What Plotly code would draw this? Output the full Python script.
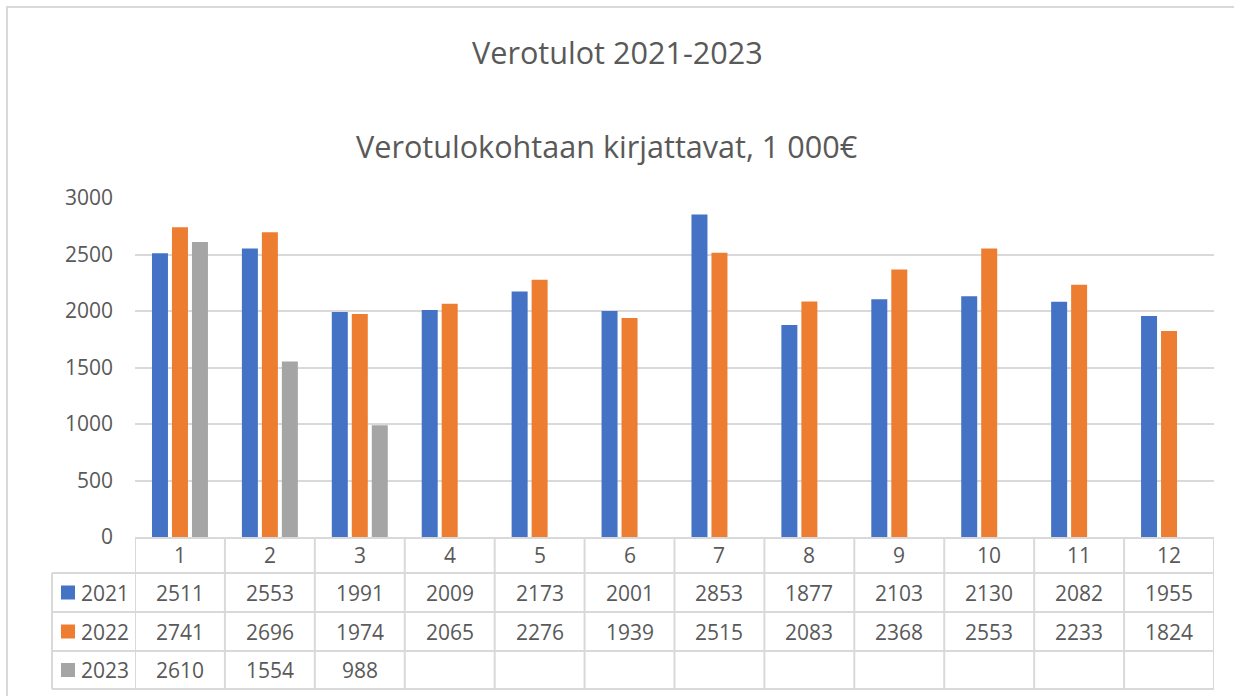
import plotly.graph_objects as go

# Data
MONTHS = ["1", "2", "3", "4", "5", "6", "7", "8", "9", "10", "11", "12"]
YEARS = ["2021", "2022", "2023"]
V2021 = [2511, 2553, 1991, 2009, 2173, 2001, 2853, 1877, 2103, 2130, 2082, 1955]
V2022 = [2741, 2696, 1974, 2065, 2276, 1939, 2515, 2083, 2368, 2553, 2233, 1824]
V2023 = [2610, 1554, 988]
COLORS = ["#4472C4", "#ED7D31", "#A5A5A5"]

TITLE = "Verotulot 2021-2023"
SUBTITLE = "Verotulokohtaan kirjattavat, 1 000€"

FONT = "Open Sans"
TXT = "#595959"
GRID = "#D9D9D9"

# pixel geometry of the plot area (used to convert to paper coords)
W, H = 1234, 696
L, R, T, B = 135, 20, 198, 159
PW, PH = W - L - R, H - T - B


def py(y):
    """pixel y -> paper y"""
    return (H - B - y) / PH


def px(x):
    """pixel x -> paper x"""
    return (x - L) / PW


series = [V2021, V2022, V2023]

fig = go.Figure()
for year, vals, color in zip(YEARS, series, COLORS):
    fig.add_trace(
        go.Bar(
            x=MONTHS[: len(vals)],
            y=vals,
            name=year,
            marker=dict(color=color, line=dict(width=0)),
            hovertemplate=f"{year}<br>%{{x}}: %{{y}}<extra></extra>",
        )
    )

# Data table under the chart
row_edges = [H - B, 573, 612, 651, 689]
shapes = []
annotations = []

# horizontal lines of the table
for y in row_edges[1:]:
    shapes.append(dict(type="line", xref="paper", yref="paper",
                       x0=px(52), x1=1, y0=py(y), y1=py(y),
                       line=dict(color=GRID, width=2)))
# vertical lines at category boundaries
for k in range(len(MONTHS) + 1):
    shapes.append(dict(type="line", xref="x", yref="paper",
                       x0=k - 0.5, x1=k - 0.5, y0=0, y1=py(row_edges[-1]),
                       line=dict(color=GRID, width=2)))
shapes.append(dict(type="line", xref="paper", yref="paper",
                   x0=px(52), x1=px(52), y0=py(573), y1=py(689),
                   line=dict(color=GRID, width=2)))

# outer chart border (right and bottom edges fall outside the picture)
shapes.append(dict(type="rect", xref="paper", yref="paper",
                   x0=px(7), x1=px(W + 10), y0=py(H + 10), y1=py(7),
                   line=dict(color=GRID, width=2), layer="below"))

cell_font = dict(size=21, color=TXT, family=FONT)

for r, (year, vals, color) in enumerate(zip(YEARS, series, COLORS)):
    yc = (row_edges[r + 1] + row_edges[r + 2]) / 2
    shapes.append(dict(type="rect", xref="paper", yref="paper",
                       x0=px(61), x1=px(75), y0=py(yc + 7), y1=py(yc - 7),
                       fillcolor=color, line=dict(width=0)))
    annotations.append(dict(text=year, xref="paper", yref="paper",
                            x=px(79), y=py(yc), xanchor="left", yanchor="middle",
                            showarrow=False, font=cell_font))
    for i, v in enumerate(vals):
        annotations.append(dict(text=str(v), xref="x", yref="paper",
                                x=i, y=py(yc), xanchor="center", yanchor="middle",
                                showarrow=False, font=cell_font))

# category labels in the header row
for i, m in enumerate(MONTHS):
    annotations.append(dict(text=m, xref="x", yref="paper",
                            x=i, y=py(555), xanchor="center", yanchor="middle",
                            showarrow=False, font=cell_font))

annotations.append(dict(text=TITLE, xref="paper", yref="paper", x=px(617), y=py(52),
                        xanchor="center", yanchor="middle", showarrow=False,
                        font=dict(size=30.6, color=TXT, family=FONT)))
annotations.append(dict(text=SUBTITLE, xref="paper", yref="paper", x=px(607), y=py(146),
                        xanchor="center", yanchor="middle", showarrow=False,
                        font=dict(size=30.6, color=TXT, family=FONT)))

fig.update_layout(
    width=W,
    height=H,
    margin=dict(l=L, r=R, t=T, b=B),
    paper_bgcolor="white",
    plot_bgcolor="white",
    barmode="group",
    bargap=0.333,
    bargroupgap=0.2,
    showlegend=False,
    font=dict(family=FONT, color=TXT, size=21),
    xaxis=dict(showticklabels=False, showgrid=False, showline=True,
               linecolor=GRID, linewidth=2, zeroline=False,
               range=[-0.5, len(MONTHS) - 0.5]),
    yaxis=dict(range=[0, 3000], dtick=500, showgrid=True, gridcolor=GRID,
               gridwidth=2, zeroline=False, ticks="", ticklabelstandoff=21,
               tickfont=cell_font),
    shapes=shapes,
    annotations=annotations,
)

fig.write_html("out.html", config={"displayModeBar": False},
               post_script="document.body.style.margin = '0';")
